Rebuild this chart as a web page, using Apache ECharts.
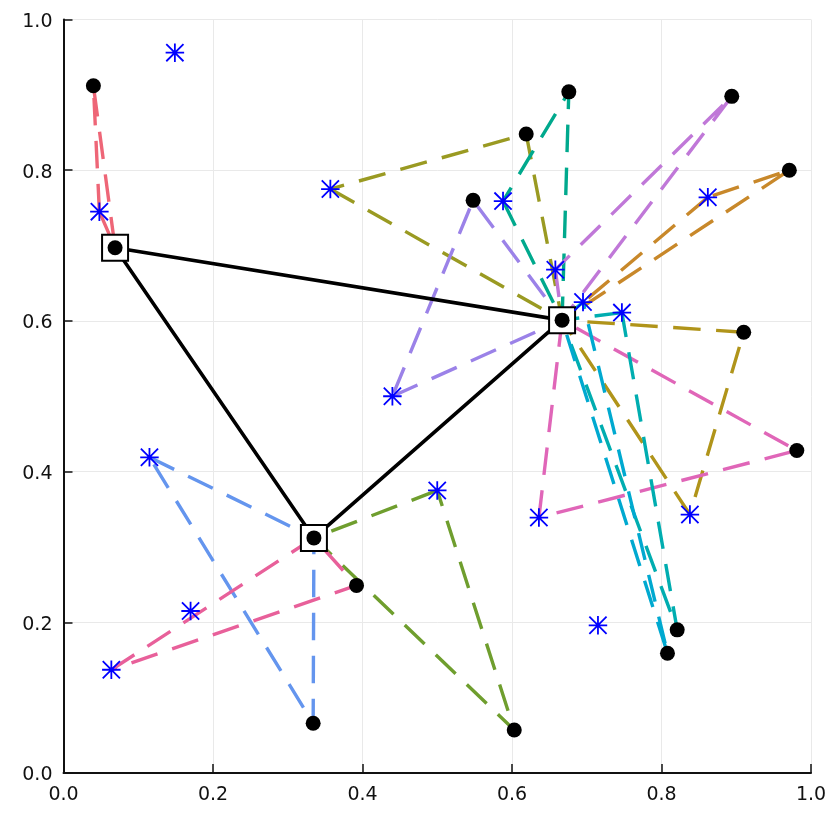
<!DOCTYPE html>
<html>
<head>
<meta charset="utf-8">
<title>Routes</title>
<script src="https://cdn.jsdelivr.net/npm/echarts@6/dist/echarts.min.js"></script>
<style>
    html, body { margin: 0; padding: 0; background: #fff; }
    #chart { width: 830px; height: 830px; }
</style>
</head>
<body>
<div id="chart"></div>
<script>
// facilities
var facA = [0.069, 0.697];
var facB = [0.667, 0.601];
var facC = [0.335, 0.312];

// black points
var customers = [
    [0.040, 0.912], [0.676, 0.904], [0.619, 0.848], [0.894, 0.898], [0.971, 0.800],
    [0.548, 0.760], [0.910, 0.585], [0.981, 0.428], [0.392, 0.249], [0.334, 0.066],
    [0.603, 0.057], [0.808, 0.159], [0.821, 0.190]
];

// blue stars
var stars = [
    [0.149, 0.956], [0.048, 0.745], [0.357, 0.775], [0.588, 0.759], [0.862, 0.764],
    [0.658, 0.668], [0.695, 0.625], [0.747, 0.611], [0.440, 0.500], [0.115, 0.419],
    [0.500, 0.375], [0.636, 0.339], [0.838, 0.343], [0.170, 0.215], [0.715, 0.196],
    [0.064, 0.137]
];

// dashed routes, one per colour: star -> facility -> black point -> star
var routeRed = [[0.048, 0.745], facA, [0.040, 0.912], [0.048, 0.745]];
var routeOlive = [[0.357, 0.775], facB, [0.619, 0.848], [0.357, 0.775]];
var routeSea = [[0.588, 0.759], facB, [0.676, 0.904], [0.588, 0.759]];
var routeViolet = [[0.440, 0.500], facB, [0.548, 0.760], [0.440, 0.500]];
var routeOrchid = [[0.658, 0.668], facB, [0.894, 0.898], [0.658, 0.668]];
var routeOrange = [[0.862, 0.764], facB, [0.971, 0.800], [0.862, 0.764]];
var routeGold = [[0.838, 0.343], facB, [0.910, 0.585], [0.838, 0.343]];
var routeMagenta = [[0.636, 0.339], facB, [0.981, 0.428], [0.636, 0.339]];
var routeTeal = [[0.747, 0.611], facB, [0.821, 0.190], [0.747, 0.611]];
var routeCyan = [[0.695, 0.625], facB, [0.808, 0.159], [0.695, 0.625]];
var routeGreen = [[0.500, 0.375], facC, [0.603, 0.057], [0.500, 0.375]];
var routeBlue = [[0.115, 0.419], facC, [0.334, 0.066], [0.115, 0.419]];
var routePink = [[0.064, 0.137], facC, [0.392, 0.249], [0.064, 0.137]];

var routes = [routeRed, routeOlive, routeSea, routeViolet, routeOrchid, routeOrange, routeGold,
    routeMagenta, routeTeal, routeCyan, routeGreen, routeBlue, routePink];
var routeColors = ['#ee6677', '#9a9a22', '#00a98d', '#9b82e8', '#c078d8', '#c8882a', '#b0941a',
    '#e066b8', '#00adb0', '#00a9d0', '#6f9e2e', '#6495ee', '#e8609a'];

// black triangle between the facilities
var mainLoop = [facA, facB, facC, facA];

var tickValues = [0, 0.2, 0.4, 0.6, 0.8, 1];

var STAR_PATH = 'path://M-10 0L10 0M0 -10L0 10M-9.3 -9.3L9.3 9.3M-9.3 9.3L9.3 -9.3';

function getAxis(labelMargin, labelTopPad) {
    return {
        type: 'value',
        min: tickValues[0],
        max: tickValues[tickValues.length - 1],
        interval: 0.2,
        axisLine: { show: true, onZero: false, lineStyle: { color: '#111', width: 2 } },
        axisTick: { show: true, inside: true, length: 9, lineStyle: { color: '#111', width: 1.5 } },
        axisLabel: {
            margin: labelMargin,
            formatter: function (v) { return '{t|' + v.toFixed(1) + '}'; },
            rich: {
                t: {
                    color: '#111',
                    fontFamily: 'DejaVu Sans',
                    fontSize: 19,
                    padding: [labelTopPad, 0, 0, 0]
                }
            }
        },
        splitLine: { show: true, lineStyle: { color: '#e9e9e9', width: 1 } }
    };
}

function getSeries() {
    var series = routes.map(function (route, i) {
        return {
            type: 'line',
            data: route,
            symbol: 'none',
            silent: true,
            z: 3,
            lineStyle: { color: routeColors[i], width: 3.4, type: [27.5, 15.5], cap: 'butt' }
        };
    });
    series.push({
        type: 'line',
        data: mainLoop,
        symbol: 'none',
        silent: true,
        z: 4,
        lineStyle: { color: '#000', width: 3.6 }
    });
    series.push({
        type: 'scatter',
        data: [facA, facB, facC],
        symbol: 'rect',
        symbolSize: 26,
        clip: false,
        z: 5,
        itemStyle: { color: '#fff', borderColor: '#000', borderWidth: 2, opacity: 1 }
    });
    series.push({
        type: 'scatter',
        data: stars,
        symbol: STAR_PATH,
        symbolSize: 18.5,
        clip: false,
        z: 6,
        itemStyle: { color: 'none', borderColor: '#0000ff', borderWidth: 1.8, opacity: 1 }
    });
    series.push({
        type: 'scatter',
        data: customers.concat([facA, facB, facC]),
        symbol: 'circle',
        symbolSize: 15,
        clip: false,
        z: 7,
        itemStyle: { color: '#000', opacity: 1 }
    });
    return series;
}

var chart = echarts.init(document.getElementById('chart'));
chart.setOption({
    animation: false,
    backgroundColor: '#fff',
    grid: { left: 63.5, right: 19, top: 19.5, bottom: 57 },
    xAxis: getAxis(13, 0),
    yAxis: getAxis(11, 5),
    series: getSeries()
});
</script>
</body>
</html>
